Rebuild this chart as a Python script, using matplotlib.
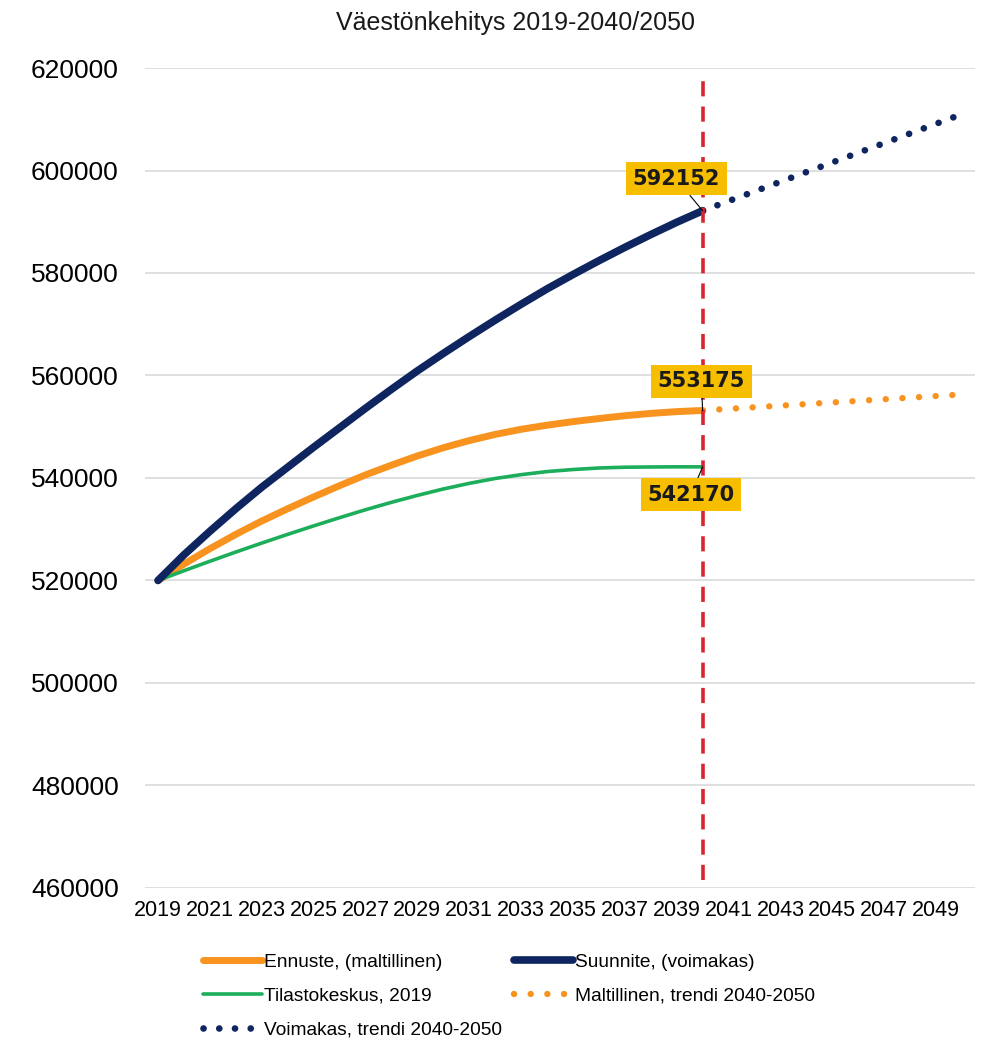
import matplotlib
matplotlib.use("Agg")
import matplotlib.pyplot as plt

plt.rcParams['font.family'] = ['Liberation Sans', 'DejaVu Sans']

# Data
years = list(range(2019, 2041))
suunnite = [520000, 525000, 529600, 534000, 538200, 542100, 546000, 549800,
            553600, 557300, 560900, 564300, 567600, 570800, 573900, 576900,
            579700, 582400, 585000, 587500, 589900, 592152]
ennuste = [520000, 523200, 526200, 529000, 531600, 534000, 536300, 538500,
           540600, 542500, 544300, 545900, 547300, 548500, 549500, 550300,
           551000, 551600, 552150, 552600, 552950, 553175]
tilastokeskus = [520000, 521900, 523750, 525550, 527300, 529000, 530650, 532250,
                 533800, 535250, 536600, 537850, 538950, 539900, 540650, 541250,
                 541650, 541950, 542100, 542150, 542180, 542170]

trend_years = [2040, 2050]
voimakas_trend = [592152, 611000]
maltillinen_trend = [553175, 556300]

split_year = 2040
tick_years = list(range(2019, 2050, 2))

navy = "#0F2560"
orange = "#F7931E"
green = "#1DAE5B"
red = "#D7262F"
gold = "#F7BE00"

fig = plt.figure(figsize=(9.9, 10.4), dpi=100)
ax = fig.add_axes([0.1465, 0.1462, 0.8383, 0.7884])

# main lines
ax.plot(years, ennuste, color=orange, lw=5, solid_capstyle='round',
        label="Ennuste, (maltillinen)", zorder=3)
ax.plot(years, tilastokeskus, color=green, lw=2.6, solid_capstyle='round',
        label="Tilastokeskus, 2019", zorder=3)
ax.plot(years, suunnite, color=navy, lw=5.5, solid_capstyle='round',
        label="Suunnite, (voimakas)", zorder=4)

# trend lines 2040-2050
ax.plot(trend_years, voimakas_trend, color=navy, lw=4.8,
        linestyle=(0, (0.01, 2.35)), dash_capstyle='round',
        label="Voimakas, trendi 2040-2050", zorder=3)
ax.plot(trend_years, maltillinen_trend, color=orange, lw=4.6,
        linestyle=(0, (0.01, 2.6)), dash_capstyle='round',
        label="Maltillinen, trendi 2040-2050", zorder=3)

# vertical marker at 2040
ax.axvline(split_year, ymin=0.01, ymax=0.985, color=red, lw=2.6,
           linestyle=(0, (4.2, 2.8)), zorder=5)

# data labels
labels = [
    (suunnite[-1], (-19, 23)),
    (ennuste[-1], (-1, 21)),
    (tilastokeskus[-1], (-8.5, -20)),
]
for val, off in labels:
    ax.annotate(str(val), xy=(split_year, val), xytext=off,
                textcoords='offset points', ha='center', va='center',
                fontsize=15, fontweight='bold', color='#1a1a1a',
                family='DejaVu Sans',
                bbox=dict(boxstyle='square,pad=0.32', fc=gold, ec='none'),
                arrowprops=dict(arrowstyle='-', color='black', lw=0.8,
                                shrinkA=0, shrinkB=0),
                zorder=6)

ax.set_xlim(2018.5, 2050.5)
ax.set_ylim(460000, 620000)
ax.set_yticks(range(460000, 620001, 20000))
ax.set_xticks(tick_years)
ax.set_xticklabels([str(y) for y in tick_years])
ax.tick_params(axis='y', length=0, pad=19, labelsize=19)
ax.tick_params(axis='x', length=0, pad=9, labelsize=15.5)
ax.grid(axis='y', color='#D9D9D9', lw=1.2)
ax.set_axisbelow(True)
for s in ax.spines.values():
    s.set_visible(False)

fig.text(0.521, 0.978, "Väestönkehitys 2019-2040/2050", ha='center',
         va='center', fontsize=18, color='#1a1a1a')

h, l = ax.get_legend_handles_labels()
order = ["Ennuste, (maltillinen)", "Tilastokeskus, 2019",
         "Voimakas, trendi 2040-2050", "Suunnite, (voimakas)",
         "Maltillinen, trendi 2040-2050"]
hd = dict(zip(l, h))
fig.legend([hd[k] for k in order], order, loc='upper left',
           bbox_to_anchor=(0.205, 0.083), ncol=2, frameon=False,
           fontsize=13.8, handlelength=3.1, handletextpad=0.1,
           columnspacing=0.6, labelspacing=0.85, borderpad=0,
           borderaxespad=0)

fig.savefig("out.png", dpi=100)
